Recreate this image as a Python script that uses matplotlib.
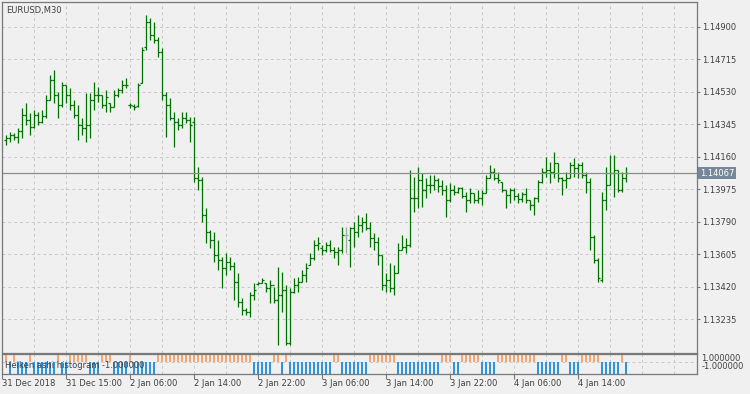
import numpy as np
import matplotlib.pyplot as plt

plt.rcParams['font.family'] = 'DejaVu Sans'
plt.rcParams['font.size'] = 6

# EURUSD M30 bars, prices in points (1e-5)
bar_no = np.arange(1, 157)
opens = [114256, 114267, 114285, 114273, 114307, 114399, 114370, 114330, 114399, 114359, 114393, 114484, 114598, 114513, 114456, 114570,
         114513, 114456, 114399, 114342, 114324, 114342, 114484, 114513, 114513, 114456, 114467, 114444, 114513, 114541, 114570, 114456,
         114450, 114450, 114581, 114786, 114929, 114855, 114826, 114758, 114513, 114456, 114381, 114359, 114342, 114381, 114370, 114359,
         114039, 114028, 113829, 113733, 113687, 113602, 113573, 113527, 113562, 113539, 113448, 113334, 113288, 113277, 113374, 113436,
         113442, 113442, 113413, 113431, 113345, 113374, 113402, 113100, 113391, 113431, 113448, 113488, 113545, 113584, 113659, 113641,
         113630, 113659, 113630, 113619, 113630, 113716, 113687, 113755, 113733, 113772, 113789, 113755, 113698, 113676, 113602, 113431,
         113459, 113413, 113499, 113630, 113647, 113659, 113925, 113925, 114028, 113971, 113999, 113999, 114028, 113994, 113971, 113914,
         113971, 113960, 113982, 113937, 113914, 113954, 113914, 113925, 113954, 114039, 114074, 114039, 114017, 113971, 113943, 113971,
         113937, 113920, 113948, 113914, 113886, 113925, 114017, 114074, 114085, 114074, 114125, 114039, 114028, 114039, 114113, 114096,
         114113, 114056, 114017, 113704, 113573, 113459, 113914, 113999, 114068, 114085, 113971, 114039]
highs = [114285, 114302, 114296, 114324, 114438, 114467, 114410, 114427, 114416, 114427, 114513, 114627, 114655, 114530, 114587, 114570,
         114552, 114484, 114456, 114381, 114524, 114524, 114587, 114558, 114513, 114541, 114467, 114541, 114552, 114598, 114609, 114467,
         114461, 114581, 114786, 114968, 114951, 114929, 114843, 114780, 114530, 114495, 114416, 114381, 114416, 114416, 114387, 114387,
         114102, 114045, 113868, 113744, 113733, 113687, 113590, 113613, 113590, 113562, 113499, 113356, 113299, 113391, 113442, 113448,
         113470, 113442, 113459, 113419, 113533, 113505, 113431, 113413, 113470, 113476, 113516, 113556, 113613, 113687, 113704, 113659,
         113676, 113687, 113647, 113647, 113761, 113761, 113761, 113789, 113829, 113817, 113840, 113789, 113727, 113704, 113602, 113499,
         113556, 113545, 113670, 113716, 113698, 114085, 114045, 114102, 114068, 114039, 114056, 114056, 114039, 114028, 113999, 114011,
         113999, 113988, 113988, 113960, 113982, 113954, 113971, 113971, 114056, 114113, 114096, 114074, 114017, 113971, 113982, 113982,
         113954, 113960, 113982, 113914, 113931, 114028, 114096, 114159, 114131, 114188, 114125, 114045, 114074, 114131, 114153, 114125,
         114131, 114074, 114039, 113716, 113584, 113960, 114102, 114170, 114170, 114085, 114074, 114102]
lows = [114228, 114245, 114256, 114239, 114267, 114342, 114285, 114324, 114342, 114353, 114381, 114484, 114467, 114381, 114444, 114467,
        114427, 114381, 114256, 114285, 114245, 114267, 114427, 114473, 114438, 114416, 114416, 114444, 114501, 114524, 114552, 114438,
        114427, 114444, 114581, 114769, 114826, 114809, 114729, 114484, 114273, 114370, 114216, 114313, 114324, 114353, 114245, 114017,
        113971, 113789, 113670, 113641, 113562, 113516, 113413, 113488, 113516, 113345, 113305, 113260, 113260, 113248, 113345, 113431,
        113442, 113391, 113328, 113328, 113089, 113277, 113089, 113089, 113385, 113391, 113448, 113448, 113545, 113573, 113630, 113602,
        113619, 113619, 113584, 113545, 113613, 113613, 113533, 113647, 113704, 113733, 113744, 113647, 113630, 113545, 113402, 113391,
        113391, 113374, 113499, 113630, 113613, 113647, 113846, 113868, 113874, 113925, 113954, 113971, 113960, 113943, 113817, 113903,
        113943, 113954, 113925, 113846, 113897, 113897, 113897, 113886, 113954, 114039, 114028, 114011, 113960, 113868, 113897, 113914,
        113897, 113903, 113897, 113857, 113829, 113903, 114011, 114045, 114011, 114039, 114017, 113943, 113982, 114039, 114045, 114039,
        114039, 113954, 113630, 113556, 113448, 113448, 113857, 113999, 113931, 113960, 113960, 114017]
closes = [114267, 114285, 114273, 114307, 114399, 114370, 114330, 114399, 114359, 114393, 114484, 114598, 114513, 114456, 114570, 114513,
          114456, 114399, 114342, 114324, 114342, 114484, 114513, 114513, 114456, 114501, 114444, 114513, 114541, 114570, 114570, 114456,
          114444, 114570, 114769, 114929, 114855, 114826, 114758, 114513, 114456, 114381, 114359, 114342, 114381, 114370, 114342, 114039,
          114028, 113829, 113733, 113687, 113602, 113573, 113527, 113562, 113539, 113448, 113334, 113288, 113277, 113374, 113402, 113442,
          113459, 113413, 113431, 113345, 113374, 113402, 113100, 113391, 113431, 113448, 113488, 113527, 113584, 113659, 113670, 113630,
          113659, 113630, 113619, 113630, 113716, 113716, 113755, 113733, 113772, 113789, 113755, 113698, 113676, 113602, 113431, 113459,
          113413, 113499, 113630, 113647, 113659, 113925, 113925, 114028, 113971, 113999, 113999, 114028, 113994, 113971, 113914, 113971,
          113960, 113982, 113937, 113914, 113954, 113914, 113925, 113954, 114039, 114074, 114039, 114028, 113971, 113943, 113971, 113937,
          113920, 113948, 113914, 113886, 113925, 114017, 114074, 114085, 114074, 114125, 114039, 114028, 114039, 114113, 114096, 114113,
          114056, 114017, 113704, 113573, 113470, 113914, 113999, 114068, 114085, 113971, 114039, 114067]

# Heiken ashi histogram: +1 drawn orange (top), -1 drawn blue (bottom)
ha_hist = [1, -1, 1, -1, -1, -1, 1, -1, -1, -1, -1, -1, -1, 1, -1, -1,
           1, 1, 1, 1, 1, -1, -1, -1, 1, 1, 1, -1, -1, -1, -1, 1,
           -1, -1, -1, -1, -1, -1, 1, 1, 1, 1, 1, 1, 1, 1, 1, 1,
           1, 1, 1, 1, 1, 1, 1, 1, 1, 1, 1, 1, 1, 1, -1, -1,
           -1, -1, -1, 1, 1, -1, 1, -1, -1, -1, -1, -1, -1, -1, -1, -1,
           -1, -1, 1, 1, -1, -1, -1, -1, -1, -1, -1, 1, 1, 1, 1, 1,
           1, 1, -1, -1, -1, -1, -1, -1, -1, -1, -1, -1, -1, 1, 1, 1,
           -1, -1, 1, 1, 1, 1, 1, -1, -1, -1, -1, 1, 1, 1, 1, 1,
           1, 1, 1, 1, 1, -1, -1, -1, -1, -1, -1, 1, 1, -1, -1, -1,
           1, 1, 1, 1, 1, -1, -1, -1, -1, -1, 1, -1]
gray_bar = 86
last_price = 1.14067

price_ticks = [1.13235, 1.13420, 1.13605, 1.13790, 1.13975, 1.14160, 1.14345, 1.14530, 1.14715, 1.14900]
time_ticks = [0, 16, 32, 48, 64, 80, 96, 112, 128, 144]
time_labels = ['31 Dec 2018', '31 Dec 15:00', '2 Jan 06:00', '2 Jan 14:00', '2 Jan 22:00',
               '3 Jan 06:00', '3 Jan 14:00', '3 Jan 22:00', '4 Jan 06:00', '4 Jan 14:00']

o = np.array(opens) / 1e5
h = np.array(highs) / 1e5
l = np.array(lows) / 1e5
c = np.array(closes) / 1e5

bg = '#f0f0f0'
txt = '#404040'
frame = '#787878'
gridc = '#c8c8c8'

fig = plt.figure(figsize=(7.5, 3.94), dpi=100, facecolor=bg)
ax = fig.add_axes([0.00307, 0.1041, 0.9263, 0.8908], facecolor=bg)
axh = fig.add_axes([0.00307, 0.0515, 0.9263, 0.0492], facecolor=bg)

# price bars
colors = ['#a8a8a8' if n == gray_bar else '#007000' for n in bar_no]
ax.vlines(bar_no, l, h, colors=colors, lw=0.9)
ax.hlines(o, bar_no - 0.5, bar_no, colors=colors, lw=0.9)
ax.hlines(c, bar_no, bar_no + 0.5, colors=colors, lw=0.9)

ax.set_xlim(0, 173.7)
ax.set_ylim(1.130427, 1.150423)
ax.set_yticks(price_ticks)
ax.set_yticklabels(['%.5f' % p for p in price_ticks])
ax.yaxis.tick_right()
ax.tick_params(axis='y', direction='out', length=2.5, width=0.8, colors=frame,
               labelcolor=txt, labelsize=6, pad=1.5)
ax.set_xticks(np.arange(8, 174, 8))
ax.tick_params(axis='x', length=0, labelbottom=False)
ax.grid(True, color=gridc, lw=0.7, ls=(0, (3, 3)))
for s in ax.spines.values():
    s.set_color(frame)
    s.set_linewidth(0.9)

ax.axhline(last_price, color='#8c8c8c', lw=0.9)
ax.text(1.004, last_price, '%.5f' % last_price, transform=ax.get_yaxis_transform(),
        ha='left', va='center', color='white', fontsize=6,
        bbox=dict(boxstyle='square,pad=0.2', fc='#76879a', ec='none'))
ax.text(0.005, 0.975, 'EURUSD,M30', transform=ax.transAxes, ha='left', va='center',
        color=txt, fontsize=6)

# histogram panel
hc = ['#f4a672' if v > 0 else '#2b95e0' for v in ha_hist]
axh.bar(bar_no, ha_hist, width=0.55, color=hc, lw=0)
axh.set_xlim(0, 173.7)
axh.set_ylim(-1.0, 0.61)
axh.axhline(0, color=gridc, lw=0.7, ls=(0, (3, 3)), zorder=0)
for xg in np.arange(8, 174, 8):
    axh.axvline(xg, color=gridc, lw=0.7, ls=(0, (3, 3)), zorder=0)
axh.set_yticks([])
axh.set_xticks(time_ticks)
axh.set_xticklabels(time_labels, ha='left')
axh.tick_params(axis='x', direction='out', length=3.8, width=0.8, colors=frame,
                labelcolor=txt, labelsize=6, pad=0.3)
for s in axh.spines.values():
    s.set_color(frame)
    s.set_linewidth(0.9)
axh.text(0.004, 0.42, 'Heiken ashi histogram -1.000000', transform=axh.transAxes,
         ha='left', va='center', color=txt, fontsize=6)
axh.text(1.006, 0.76, '1.000000', transform=axh.transAxes, ha='left', va='center',
         color=txt, fontsize=6)
axh.text(1.006, 0.36, '-1.000000', transform=axh.transAxes, ha='left', va='center',
         color=txt, fontsize=6)

fig.savefig('out.png', dpi=100, facecolor=bg)
